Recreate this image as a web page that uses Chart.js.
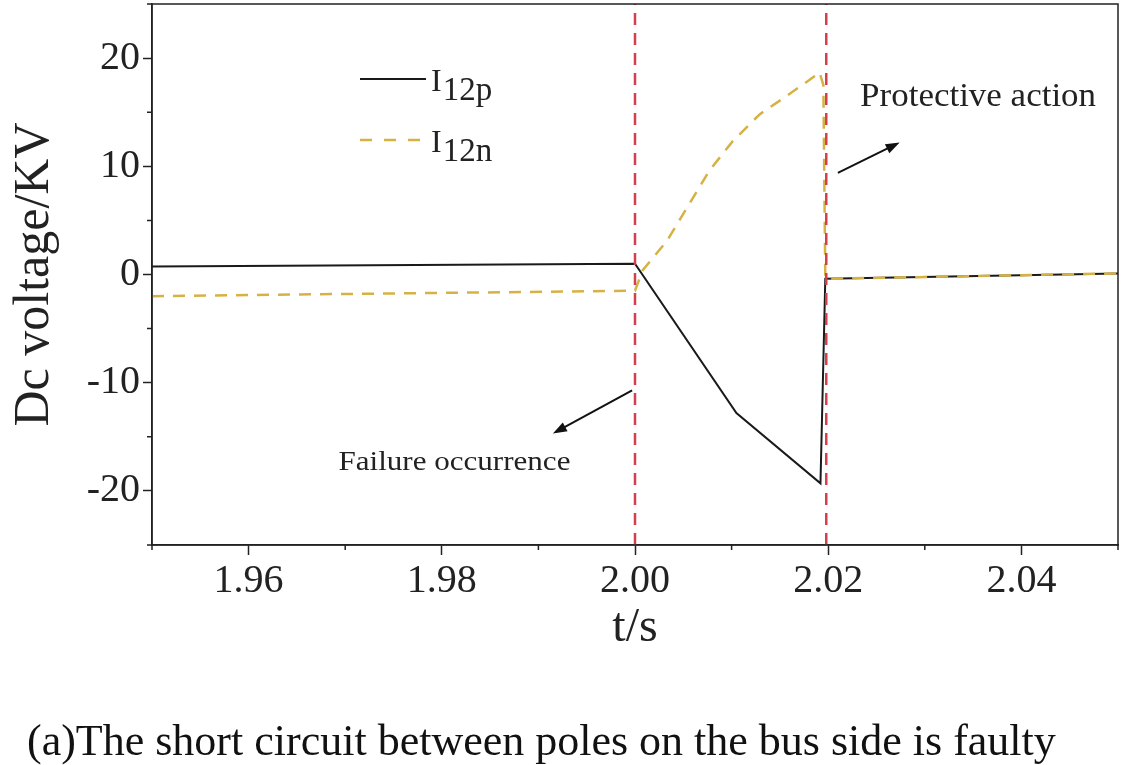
<!DOCTYPE html>
<html><head><meta charset="utf-8">
<script src="https://cdn.jsdelivr.net/npm/chart.js@4.4.1/dist/chart.umd.min.js"></script>
<style>html,body{margin:0;padding:0;background:#fff}#wrap{width:1123px;height:765px;position:relative}</style>
</head><body><div id="wrap"><canvas id="c"></canvas></div>
<script>
// ---- data ----
const tP = [1.95, 2.000, 2.0105, 2.0192, 2.0197, 2.05];
const vP = [0.75, 1.0, -12.8, -19.3, -0.4, 0.1];
const tN = [1.95, 2.000, 2.0008, 2.0033, 2.0054, 2.0077, 2.0101, 2.0129, 2.0157, 2.0184, 2.0191, 2.0195, 2.0197, 2.05];
const vN = [-2.0, -1.5, 0.4, 3.1, 6.2, 9.6, 12.3, 14.8, 16.5, 18.2, 18.7, 17.5, -0.4, 0.1];
const eventTimes = [2.000, 2.0198];
const xTicks = [1.96, 1.98, 2.00, 2.02, 2.04];
const xMinor = [1.95, 1.97, 1.99, 2.01, 2.03, 2.05];
const yTicks = [-20, -10, 0, 10, 20];
const yMinor = [-25, -15, -5, 5, 15, 25];
const xRange = [1.95, 2.05];
const yRange = [-25, 25];
const seriesNames = [['I', '12p'], ['I', '12n']];
const xTitle = 't/s';
const yTitle = 'Dc voltage/KV';
const caption = '(a)The short circuit between poles on the bus side is faulty';
const notes = [
  {text: 'Protective action', at: [2.0233, 16.4], from: [2.0210, 9.4], to: [2.0274, 12.2], size: 34, width: 236},
  {text: 'Failure occurrence', at: [1.9693, -17.4], from: [1.9997, -10.7], to: [1.9915, -14.7], size: 27, width: 232}
];

const SERIF = '"Liberation Serif", "Times New Roman", serif';
const BLACK = '#1a1a1a', GOLD = '#d6b244', RED = '#d43f4c';

const pts = (t, v) => t.map((x, i) => ({x, y: v[i]}));

const datasets = [
  {label: 'I12n', data: pts(tN, vN), borderColor: GOLD, borderWidth: 2.5, borderDash: [12, 9], order: 1},
  {label: 'I12p', data: pts(tP, vP), borderColor: BLACK, borderWidth: 2, order: 2},
  ...eventTimes.map(t => ({label: 'event', data: [{x: t, y: yRange[0]}, {x: t, y: yRange[1]}],
     borderColor: RED, borderWidth: 2.5, borderDash: [12, 8], order: 0}))
];

function arrow(ctx, x1, y1, x2, y2) {
  const a = Math.atan2(y2 - y1, x2 - x1), L = 14, W = 5;
  ctx.beginPath(); ctx.moveTo(x1, y1);
  ctx.lineTo(x2 - L * 0.8 * Math.cos(a), y2 - L * 0.8 * Math.sin(a)); ctx.stroke();
  ctx.beginPath(); ctx.moveTo(x2, y2);
  ctx.lineTo(x2 - L * Math.cos(a) + W * Math.sin(a), y2 - L * Math.sin(a) - W * Math.cos(a));
  ctx.lineTo(x2 - L * Math.cos(a) - W * Math.sin(a), y2 - L * Math.sin(a) + W * Math.cos(a));
  ctx.closePath(); ctx.fill();
}

const decor = {
  id: 'decor',
  afterDatasetsDraw(chart) {
    const {ctx, chartArea: ca, scales: {x, y}} = chart;
    ctx.save();
    // frame
    ctx.strokeStyle = '#222'; ctx.lineWidth = 1.5;
    ctx.strokeRect(ca.left, ca.top, ca.right - ca.left, ca.bottom - ca.top);
    // minor ticks
    ctx.beginPath();
    xMinor.forEach(v => { const px = x.getPixelForValue(v); ctx.moveTo(px, ca.bottom); ctx.lineTo(px, ca.bottom + 5); });
    yMinor.forEach(v => { const py = y.getPixelForValue(v); ctx.moveTo(ca.left, py); ctx.lineTo(ca.left - 5, py); });
    ctx.stroke();
    // legend
    const lx0 = 360, lx1 = 426, ly = [79, 140];
    ctx.lineWidth = 2; ctx.strokeStyle = BLACK;
    ctx.beginPath(); ctx.moveTo(lx0, ly[0]); ctx.lineTo(lx1, ly[0]); ctx.stroke();
    ctx.strokeStyle = GOLD; ctx.lineWidth = 2.5; ctx.setLineDash([12, 12]);
    ctx.beginPath(); ctx.moveTo(lx0, ly[1]); ctx.lineTo(lx1, ly[1]); ctx.stroke();
    ctx.setLineDash([]);
    ctx.fillStyle = '#222'; ctx.textBaseline = 'alphabetic'; ctx.textAlign = 'left';
    seriesNames.forEach((n, i) => {
      ctx.font = '32px ' + SERIF;
      ctx.fillText(n[0], 431, ly[i] + 12);
      const w = ctx.measureText(n[0]).width;
      ctx.font = '33px ' + SERIF;
      ctx.fillText(n[1], 431 + w + 1, ly[i] + 21);
    });
    // notes
    ctx.strokeStyle = '#111'; ctx.fillStyle = '#111'; ctx.lineWidth = 2;
    notes.forEach(n => {
      arrow(ctx, x.getPixelForValue(n.from[0]), y.getPixelForValue(n.from[1]),
                 x.getPixelForValue(n.to[0]), y.getPixelForValue(n.to[1]));
      ctx.font = n.size + 'px ' + SERIF;
      const tw = ctx.measureText(n.text).width;
      const px = x.getPixelForValue(n.at[0]), py = y.getPixelForValue(n.at[1]);
      ctx.save(); ctx.translate(px, py); ctx.scale(n.width / tw, 1);
      ctx.textBaseline = 'middle'; ctx.fillStyle = '#222';
      ctx.fillText(n.text, 0, 0); ctx.restore();
    });
    ctx.restore();
  },
  afterDraw(chart) {
    const {ctx} = chart;
    ctx.save();
    ctx.font = '44px ' + SERIF; ctx.fillStyle = '#111';
    ctx.textAlign = 'left'; ctx.textBaseline = 'alphabetic';
    ctx.fillText(caption, 27, 755);
    ctx.restore();
  }
};

new Chart(document.getElementById('c'), {
  type: 'line',
  data: {datasets},
  options: {
    responsive: true, maintainAspectRatio: false, animation: false,
    layout: {padding: {left: 0, top: 4, right: 5, bottom: 110}},
    elements: {point: {radius: 0}, line: {tension: 0}},
    plugins: {legend: {display: false}, tooltip: {enabled: false}},
    scales: {
      x: {
        type: 'linear', min: xRange[0], max: xRange[1],
        afterBuildTicks: s => { s.ticks = xTicks.map(v => ({value: v})); },
        afterFit: s => { s.height = 110; s.paddingLeft = 0; s.paddingRight = 0; },
        ticks: {font: {family: SERIF, size: 40}, color: '#222', padding: 2, maxRotation: 0,
                callback: v => Number(v).toFixed(2)},
        grid: {drawOnChartArea: false, drawTicks: true, tickLength: 10, color: '#222', tickWidth: 1.5},
        border: {display: true, color: '#222', width: 1.5},
        title: {display: true, text: xTitle, font: {family: SERIF, size: 48, lineHeight: 1}, color: '#222',
                padding: {top: 0, bottom: 3}}
      },
      y: {
        type: 'linear', min: yRange[0], max: yRange[1],
        afterBuildTicks: s => { s.ticks = yTicks.map(v => ({value: v})); },
        afterFit: s => { s.width = 152; s.paddingTop = 0; s.paddingBottom = 0; },
        ticks: {font: {family: SERIF, size: 40}, color: '#222', padding: 3},
        grid: {drawOnChartArea: false, drawTicks: true, tickLength: 9, color: '#222', tickWidth: 1.5},
        border: {display: true, color: '#222', width: 1.5},
        title: {display: true, text: yTitle, font: {family: SERIF, size: 50, lineHeight: 1}, color: '#222',
                padding: {top: 10, bottom: 0}}
      }
    }
  },
  plugins: [decor]
});
</script></body></html>
